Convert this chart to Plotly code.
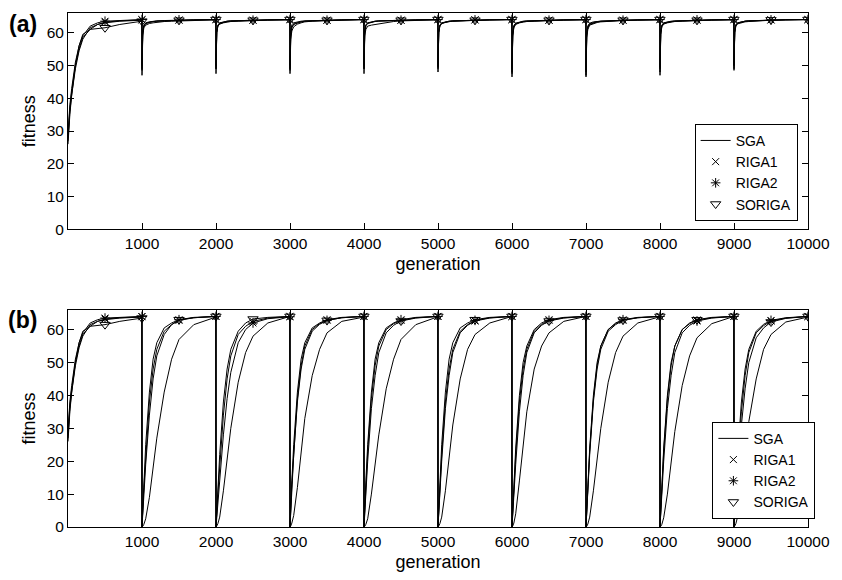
import plotly.graph_objects as go

# ---------------- data ----------------
SERIES = ["SGA", "RIGA1", "RIGA2", "SORIGA"]
CYCLE_LEN = 1000
N_CYCLES = 10
# sample offsets (generations) inside every 1000-generation cycle
OFFSETS = [0, 10, 25, 50, 100, 150, 200, 300, 400, 500, 700, 999]
MARK_OFFSETS = [500, 999]
X_TICKS = [1000, 2000, 3000, 4000, 5000, 6000, 7000, 8000, 9000, 10000]
Y_TICKS = [0, 10, 20, 30, 40, 50, 60]

# panel (a): fitness per cycle at the offsets above
A_SGA = [
    [28, 33, 37, 42, 50, 55, 58.5, 61.0, 62.5, 63.0, 63.5, 63.8],
    [47, 59, 61.5, 62.3, 62.8, 63.0, 63.2, 63.4, 63.5, 63.6, 63.7, 63.9],
    [47.5, 60, 62.0, 62.6, 63.0, 63.2, 63.4, 63.5, 63.6, 63.7, 63.8, 63.9],
    [47.5, 58, 60.5, 61.8, 62.6, 63.0, 63.3, 63.5, 63.6, 63.7, 63.8, 64.0],
    [47.5, 59, 61.0, 62.0, 62.3, 62.5, 62.7, 63.0, 63.4, 63.6, 63.8, 63.9],
    [48, 60, 62.0, 62.8, 63.2, 63.4, 63.5, 63.6, 63.7, 63.8, 63.9, 64.0],
    [46.5, 59, 61.5, 62.5, 63.0, 63.2, 63.4, 63.5, 63.6, 63.7, 63.8, 63.9],
    [46.5, 58.5, 61.0, 62.3, 62.8, 63.1, 63.3, 63.5, 63.6, 63.7, 63.8, 63.9],
    [47, 59.5, 61.8, 62.6, 63.0, 63.2, 63.4, 63.5, 63.6, 63.7, 63.8, 63.9],
    [48.5, 60, 62.0, 62.7, 63.1, 63.3, 63.4, 63.6, 63.7, 63.8, 63.9, 64.0],
]
A_RIGA1 = [
    [27, 32, 36, 41, 49, 54.5, 58, 61.5, 62.5, 63.2, 63.6, 63.9],
    [49, 60, 62.0, 62.8, 63.2, 63.4, 63.5, 63.6, 63.7, 63.8, 63.9, 64.0],
    [50, 60.5, 62.3, 63.0, 63.3, 63.5, 63.6, 63.7, 63.8, 63.8, 63.9, 64.0],
    [49, 59.5, 61.8, 62.6, 63.1, 63.3, 63.5, 63.6, 63.7, 63.8, 63.9, 64.0],
    [50, 60.5, 62.4, 63.0, 63.3, 63.5, 63.6, 63.7, 63.8, 63.8, 63.9, 64.0],
    [49.5, 60, 62.2, 62.9, 63.3, 63.5, 63.6, 63.7, 63.8, 63.9, 63.9, 64.0],
    [48, 59.5, 62.0, 62.8, 63.2, 63.4, 63.5, 63.6, 63.7, 63.8, 63.9, 64.0],
    [48.5, 60, 62.1, 62.9, 63.3, 63.4, 63.5, 63.6, 63.7, 63.8, 63.9, 64.0],
    [49, 60, 62.2, 62.9, 63.2, 63.4, 63.5, 63.6, 63.7, 63.8, 63.9, 64.0],
    [50, 60.5, 62.4, 63.0, 63.3, 63.5, 63.6, 63.7, 63.8, 63.9, 63.9, 64.0],
]
A_RIGA2 = [
    [29, 34, 38, 43, 51, 56, 59, 62.0, 63.0, 63.5, 63.7, 64.0],
    [50, 60.5, 62.3, 63.0, 63.3, 63.5, 63.6, 63.7, 63.8, 63.9, 63.9, 64.0],
    [49, 60, 62.0, 62.8, 63.2, 63.4, 63.5, 63.6, 63.7, 63.8, 63.9, 64.0],
    [50, 60.5, 62.4, 63.0, 63.3, 63.5, 63.6, 63.7, 63.8, 63.8, 63.9, 64.0],
    [49, 60, 62.1, 62.8, 63.2, 63.4, 63.5, 63.6, 63.7, 63.8, 63.9, 64.0],
    [50, 60.5, 62.3, 63.0, 63.3, 63.5, 63.6, 63.7, 63.8, 63.9, 63.9, 64.0],
    [49, 60, 62.2, 62.9, 63.3, 63.5, 63.6, 63.7, 63.8, 63.8, 63.9, 64.0],
    [48, 59.5, 61.9, 62.7, 63.1, 63.4, 63.5, 63.6, 63.7, 63.8, 63.9, 64.0],
    [49.5, 60.5, 62.3, 63.0, 63.3, 63.5, 63.6, 63.7, 63.8, 63.9, 63.9, 64.0],
    [50, 60.5, 62.4, 63.0, 63.3, 63.5, 63.6, 63.7, 63.8, 63.9, 64.0, 64.0],
]
A_SORIGA = [
    [26, 31, 35, 41, 50, 56, 59.5, 61.0, 61.2, 61.5, 62.5, 63.5],
    [48.5, 59.5, 62.0, 62.8, 63.2, 63.4, 63.5, 63.6, 63.7, 63.8, 63.9, 64.0],
    [49, 60, 62.2, 62.9, 63.3, 63.5, 63.6, 63.7, 63.8, 63.8, 63.9, 64.0],
    [48.5, 59, 61.5, 62.5, 63.0, 63.3, 63.5, 63.6, 63.7, 63.8, 63.9, 64.0],
    [49, 60, 62.2, 62.9, 63.3, 63.5, 63.6, 63.7, 63.8, 63.8, 63.9, 64.0],
    [49, 60, 62.1, 62.8, 63.2, 63.4, 63.5, 63.6, 63.7, 63.8, 63.9, 64.0],
    [47.5, 59, 61.8, 62.7, 63.1, 63.4, 63.5, 63.6, 63.7, 63.8, 63.9, 64.0],
    [47, 59, 61.5, 62.5, 63.0, 63.3, 63.5, 63.6, 63.7, 63.8, 63.9, 64.0],
    [48, 59.5, 62.0, 62.8, 63.2, 63.4, 63.5, 63.6, 63.7, 63.8, 63.9, 64.0],
    [49, 60, 62.2, 62.9, 63.3, 63.5, 63.6, 63.7, 63.8, 63.9, 63.9, 64.0],
]

# panel (b)
B_SGA = [
    [28, 33, 37, 42, 50, 55, 58.5, 61.0, 62.5, 63.0, 63.5, 63.8],
    [0, 0.2, 0.8, 2.5, 9, 18, 27, 41, 51, 57, 61.5, 63.8],
    [0, 0.3, 1.0, 3.0, 11, 21, 30, 44, 53, 58, 62.0, 64.0],
    [0, 0.3, 1.2, 3.5, 12, 23, 33, 46, 54, 59, 62.5, 63.8],
    [0, 0.2, 0.8, 2.5, 10, 19, 28, 42, 51, 57, 61.5, 63.9],
    [0, 0.3, 1.0, 3.0, 11, 22, 31, 45, 54, 58.5, 62.0, 64.0],
    [0, 0.3, 1.2, 4.0, 14, 25, 35, 48, 55, 59, 62.5, 64.0],
    [0, 0.2, 0.9, 3.0, 11, 21, 30, 44, 53, 58, 62.0, 63.9],
    [0, 0.2, 0.8, 2.8, 10, 20, 29, 43, 52, 57.5, 61.8, 64.0],
    [0, 0.3, 1.0, 3.2, 12, 22, 32, 45, 54, 58.5, 62.3, 63.8],
]
B_RIGA1 = [
    [27, 32, 36, 41, 49, 54.5, 58, 61.5, 62.5, 63.2, 63.6, 63.9],
    [0, 5, 12, 22, 38, 48, 54, 59.5, 61.5, 62.8, 63.6, 64.0],
    [0, 4, 10, 19, 34, 45, 52, 58.5, 61.0, 62.5, 63.5, 64.0],
    [0, 6, 14, 25, 41, 51, 56, 60.5, 62.0, 63.0, 63.7, 64.0],
    [0, 5, 13, 23, 39, 49, 55, 60.0, 61.8, 62.8, 63.6, 64.0],
    [0, 4, 11, 20, 36, 46, 53, 59.0, 61.3, 62.6, 63.5, 64.0],
    [0, 6, 14, 24, 40, 50, 55, 60.0, 62.0, 63.0, 63.7, 64.0],
    [0, 5, 12, 22, 38, 48, 54, 59.5, 61.5, 62.8, 63.6, 64.0],
    [0, 5, 13, 23, 39, 49, 55, 60.0, 61.8, 62.9, 63.6, 64.0],
    [0, 4, 10, 19, 35, 46, 53, 59.0, 61.2, 62.6, 63.5, 64.0],
]
B_RIGA2 = [
    [29, 34, 38, 43, 51, 56, 59, 62.0, 63.0, 63.5, 63.7, 64.0],
    [0, 6, 14, 25, 41, 51, 56, 60.5, 62.0, 63.0, 63.7, 64.0],
    [0, 3, 8, 15, 28, 39, 47, 56.0, 60.0, 62.0, 63.3, 63.9],
    [0, 5, 13, 23, 39, 49, 55, 60.0, 61.8, 62.8, 63.6, 64.0],
    [0, 6, 14, 25, 41, 51, 56, 60.5, 62.0, 63.0, 63.7, 64.0],
    [0, 5, 12, 22, 38, 48, 54, 59.5, 61.5, 62.8, 63.6, 64.0],
    [0, 5, 12, 22, 38, 48, 54, 59.5, 61.6, 62.8, 63.6, 64.0],
    [0, 6, 14, 24, 40, 50, 55, 60.0, 62.0, 63.0, 63.7, 64.0],
    [0, 4, 11, 20, 36, 46, 53, 59.0, 61.3, 62.6, 63.5, 64.0],
    [0, 5, 12, 22, 38, 48, 54, 59.5, 61.6, 62.8, 63.6, 64.0],
]
B_SORIGA = [
    [26, 31, 35, 41, 50, 56, 59.5, 61.0, 61.2, 61.5, 62.5, 63.5],
    [0, 4, 10, 19, 34, 45, 52, 58.5, 61.5, 63.0, 63.6, 64.0],
    [0, 5, 12, 22, 38, 48, 54, 59.5, 62.0, 63.2, 63.7, 64.0],
    [0, 5, 12, 22, 38, 48, 54, 59.5, 61.6, 62.8, 63.6, 64.0],
    [0, 4, 11, 20, 36, 46, 53, 59.0, 61.3, 62.6, 63.5, 64.0],
    [0, 6, 14, 25, 41, 51, 56, 60.5, 62.0, 63.0, 63.7, 64.0],
    [0, 4, 10, 19, 35, 46, 53, 59.0, 61.3, 62.6, 63.5, 64.0],
    [0, 5, 13, 23, 39, 49, 55, 60.0, 61.8, 62.9, 63.6, 64.0],
    [0, 6, 14, 24, 40, 50, 55, 60.0, 62.0, 63.0, 63.7, 64.0],
    [0, 3, 9, 17, 31, 42, 50, 57.5, 60.5, 62.3, 63.4, 64.0],
]

PANEL_A = [A_SGA, A_RIGA1, A_RIGA2, A_SORIGA]
PANEL_B = [B_SGA, B_RIGA1, B_RIGA2, B_SORIGA]

# ---------------- styling ----------------
FONT = "Liberation Sans, Arial, Helvetica, sans-serif"
SYMBOL = {"RIGA1": "x-thin-open", "RIGA2": "asterisk-open", "SORIGA": "triangle-down-open"}
MSIZE = {"RIGA1": 7, "RIGA2": 8, "SORIGA": 9}


def flatten(cycles):
    xs, ys, mx, my = [], [], [], []
    for c, vals in enumerate(cycles):
        for off, v in zip(OFFSETS, vals):
            g = c * CYCLE_LEN + off
            xs.append(g)
            ys.append(v)
            if off in MARK_OFFSETS:
                mx.append(g)
                my.append(v)
    return xs, ys, mx, my


fig = go.Figure()
for panel, (xa, ya, leg) in zip([PANEL_A, PANEL_B], [("x", "y", "legend"), ("x2", "y2", "legend2")]):
    lines = []
    markers = []
    for name, cycles in zip(SERIES, panel):
        xs, ys, mx, my = flatten(cycles)
        lines.append(go.Scatter(
            x=xs, y=ys, mode="lines", name=name, xaxis=xa, yaxis=ya, legend=leg,
            line=dict(color="black", width=1),
            showlegend=(name == "SGA")))
        if name != "SGA":
            markers.append(go.Scatter(
                x=mx, y=my, mode="markers", name=name, xaxis=xa, yaxis=ya, legend=leg,
                marker=dict(symbol=SYMBOL[name], size=MSIZE[name], color="black",
                            line=dict(color="black", width=1)),
                showlegend=True))
    for t in [lines[0]] + markers + lines[1:]:
        fig.add_trace(t)

axis_common = dict(
    showgrid=False, zeroline=False, showline=True, linecolor="black",
    linewidth=1, mirror="ticks", ticks="inside", ticklen=6, tickcolor="black",
    tickfont=dict(family=FONT, size=15.5, color="black"),
)
xcfg = dict(axis_common, range=[0, 10000], tickvals=X_TICKS,
            ticktext=[str(v) for v in X_TICKS],
            title=dict(text="generation", font=dict(family=FONT, size=18, color="black"), standoff=6))
ycfg = dict(axis_common, range=[0, 66], tickvals=Y_TICKS,
            ticktext=[str(v) for v in Y_TICKS],
            title=dict(text="fitness", font=dict(family=FONT, size=18, color="black"), standoff=6))

legend_common = dict(
    bordercolor="black", borderwidth=1, bgcolor="white",
    font=dict(family=FONT, size=14, color="black"), tracegroupgap=0,
    itemwidth=30,
)

fig.update_layout(
    width=842, height=580,
    margin=dict(l=68, r=25, t=12, b=52),
    paper_bgcolor="white", plot_bgcolor="white",
    xaxis=dict(xcfg, anchor="y"),
    yaxis=dict(ycfg, domain=[0.579, 1.0], anchor="x"),
    xaxis2=dict(xcfg, anchor="y2"),
    yaxis2=dict(ycfg, domain=[0.0, 0.4225], anchor="x2"),
    legend=dict(legend_common, x=0.986, xanchor="right", y=0.69, yanchor="middle"),
    legend2=dict(legend_common, x=1.01, xanchor="right", y=0.016, yanchor="bottom"),
    annotations=[
        dict(text="<b>(a)</b>", x=-0.0614, y=0.9787, xref="paper", yref="paper",
             xanchor="center", yanchor="middle", showarrow=False,
             font=dict(family=FONT, size=23, color="black")),
        dict(text="<b>(b)</b>", x=-0.0614, y=0.403, xref="paper", yref="paper",
             xanchor="center", yanchor="middle", showarrow=False,
             font=dict(family=FONT, size=23, color="black")),
    ],
)

fig.write_html("out.html")
